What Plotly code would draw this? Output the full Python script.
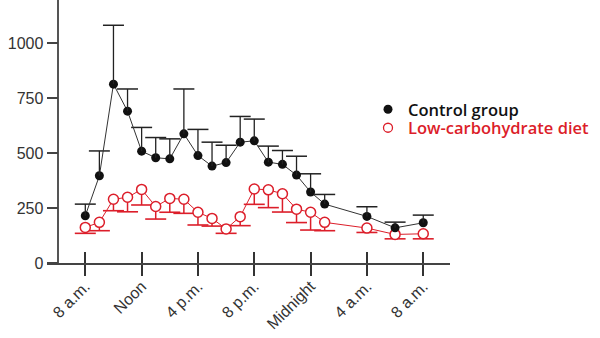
import plotly.graph_objects as go

# hours after 8 a.m.
hours = [0, 1, 2, 3, 4, 5, 6, 7, 8, 9, 10, 11, 12, 13, 14, 15, 16, 17, 20, 22, 24]
control = [215, 397, 814, 691, 509, 479, 474, 588, 489, 441, 457, 550, 556, 459, 449, 400, 323, 268, 212, 160, 183]
control_err = [53, 113, 268, 101, 108, 92, 91, 204, 119, 109, 79, 117, 99, 73, 63, 86, 83, 44, 44, 26, 35]
lowcarb = [162, 185, 290, 299, 335, 257, 294, 290, 231, 203, 155, 211, 337, 333, 315, 245, 231, 185, 159, 130, 133]
lowcarb_err = [27, 38, 52, 66, 71, 57, 63, 64, 58, 35, 20, 41, 70, 81, 83, 61, 81, 38, 20, 20, 23]

tick_vals = [0, 4, 8, 12, 16, 20, 24]
tick_text = ["8 a.m.", "Noon", "4 p.m.", "8 p.m.", "Midnight", "4 a.m.", "8 a.m."]
y_ticks = [0, 250, 500, 750, 1000]

RED = "#dc1e2a"
BLACK = "#111111"


def stems(xs, ys, errs, sign):
    sx, sy = [], []
    for x, y, e in zip(xs, ys, errs):
        sx += [x, x, None]
        sy += [y, y + sign * e, None]
    return sx, sy


fig = go.Figure()

# red error stems (downward) and caps
rx, ry = stems(hours, lowcarb, lowcarb_err, -1)
fig.add_trace(go.Scatter(x=rx, y=ry, mode="lines", line=dict(color=RED, width=1.5),
                         showlegend=False, hoverinfo="skip"))
fig.add_trace(go.Scatter(x=hours, y=[v - e for v, e in zip(lowcarb, lowcarb_err)], mode="markers",
                         marker=dict(symbol="line-ew", size=15, line=dict(color=RED, width=1.6)),
                         showlegend=False, hoverinfo="skip"))
# black error stems (upward) and caps
bx, by = stems(hours, control, control_err, 1)
fig.add_trace(go.Scatter(x=bx, y=by, mode="lines", line=dict(color="#222222", width=1.3),
                         showlegend=False, hoverinfo="skip", xaxis="x2"))
fig.add_trace(go.Scatter(x=hours, y=[v + e for v, e in zip(control, control_err)], mode="markers",
                         marker=dict(symbol="line-ew", size=15, line=dict(color="#222222", width=1.5)),
                         showlegend=False, hoverinfo="skip"))

# main series
fig.add_trace(go.Scatter(x=hours, y=lowcarb, mode="lines+markers",
                         line=dict(color=RED, width=1),
                         marker=dict(symbol="circle", size=10, color="white", line=dict(color=RED, width=1.5)),
                         showlegend=False))
fig.add_trace(go.Scatter(x=hours, y=control, mode="lines+markers",
                         line=dict(color="#333333", width=1),
                         marker=dict(symbol="circle", size=9, color=BLACK),
                         showlegend=False))

# legend entries
fig.add_trace(go.Scatter(x=[None], y=[None], mode="markers", name="Control group",
                         marker=dict(symbol="circle", size=9, color=BLACK), legend="legend"))
fig.add_trace(go.Scatter(x=[None], y=[None], mode="markers", name="Low-carbohydrate diet",
                         marker=dict(symbol="circle", size=9, color="white", line=dict(color=RED, width=1.3)),
                         legend="legend2"))

W, H = 600, 338
L, R, T, B = 47, 150, 0, 75
pw = W - L - R
ph = H - T - B
xr = [-2.72, 25.9]
leg_x = 368


def ypos(px):
    return (ph - px) / ph


fig.update_layout(
    width=W, height=H,
    margin=dict(l=L, r=R, t=T, b=B),
    paper_bgcolor="white", plot_bgcolor="white",
    xaxis=dict(range=xr, tickmode="array", tickvals=tick_vals, ticktext=tick_text,
               tickangle=-45, ticks="outside", ticklen=11, tickwidth=1.5, tickcolor="#333",
               ticklabelstandoff=-5,
               showline=True, linecolor="#444", linewidth=1.5, showgrid=False, zeroline=False,
               tickfont=dict(family="Liberation Sans, Arial", size=16, color="#333"),
               automargin=False),
    xaxis2=dict(range=xr, overlaying="x", anchor="y", tickmode="array", tickvals=tick_vals,
                ticks="inside", ticklen=11, tickwidth=1.5, tickcolor="#333",
                showticklabels=False, showline=False, showgrid=False, zeroline=False),
    yaxis=dict(range=[0, 1197], tickmode="array", tickvals=y_ticks,
               ticks="outside", ticklen=11, tickwidth=1.5, tickcolor="#444",
               showline=True, linecolor="#555", linewidth=1.5, showgrid=False, zeroline=False,
               anchor="free", position=(58.3 - L) / pw,
               tickfont=dict(family="Liberation Sans, Arial", size=16, color="#333"),
               automargin=False),
    legend=dict(x=(leg_x - L) / pw, y=ypos(92), xanchor="left", yanchor="top",
                bgcolor="rgba(0,0,0,0)", borderwidth=0,
                font=dict(family="Open Sans", size=16.5, color="#111", weight=600)),
    legend2=dict(x=(leg_x - L) / pw, y=ypos(110.5), xanchor="left", yanchor="top",
                 bgcolor="rgba(0,0,0,0)", borderwidth=0,
                 font=dict(family="Open Sans", size=16.5, color=RED, weight=600)),
)

fig.write_html("out.html")
